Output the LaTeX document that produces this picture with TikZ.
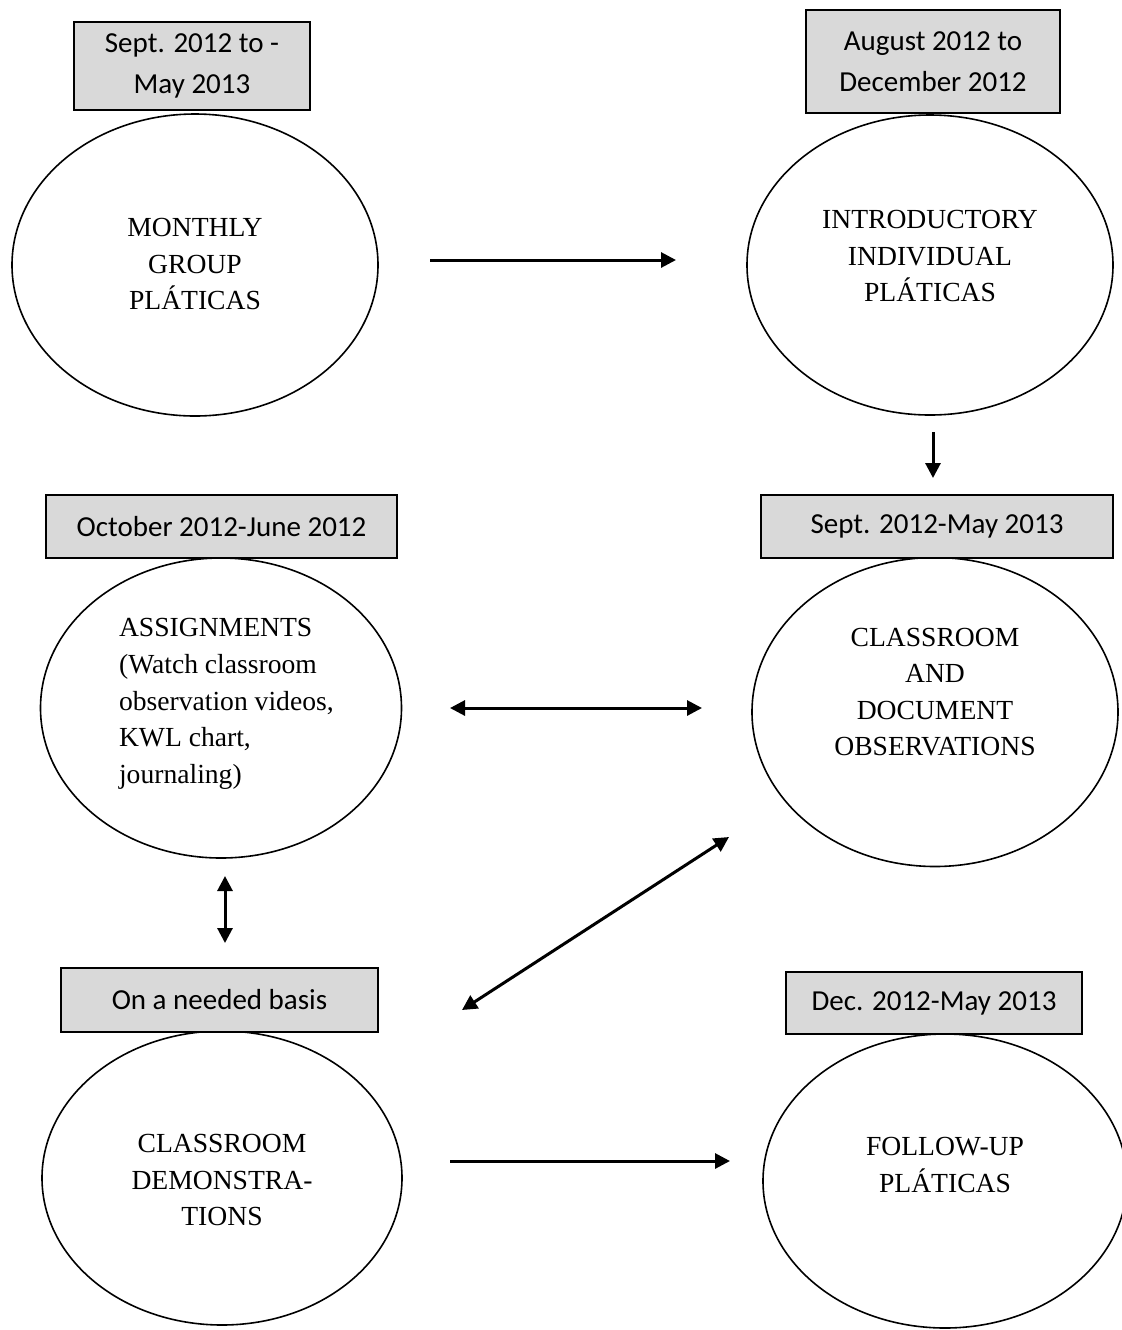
\documentclass[tikz,border=0pt]{standalone}
\usepackage{fontspec}
\setmainfont{Liberation Serif}
\newfontfamily\datefont{Carlito}
\usepackage{xcolor}
\usepackage{tikz}
\usetikzlibrary{shapes.geometric,arrows.meta}
\definecolor{boxgray}{RGB}{217,217,217}

\begin{document}
\begin{tikzpicture}[x=0.5pt, y=-0.5pt,
    stage/.style={draw, ellipse, line width=0.8pt, inner sep=0pt},
    stagetext/.style={font=\fontsize{13.8}{18.3}\selectfont, align=center},
    datebox/.style={draw, fill=boxgray, line width=1pt, inner sep=0pt,
      font=\datefont\fontsize{14.5}{20.5}\selectfont, align=center},
    flow/.style={line width=1.5pt, -{Triangle[length=7.5pt,width=7.5pt]}},
    twoway/.style={line width=1.5pt,
      {Triangle[length=7.5pt,width=7.5pt]}-{Triangle[length=7.5pt,width=7.5pt]}}]
    \useasboundingbox (0,0) rectangle (1122,1330);

    % top row
    \node[stage, minimum width=183pt, minimum height=151pt] (monthly) at (195,265) {};
    \node[stagetext] (monthly-t) at (195,264) {MONTHLY\\GROUP\\PLÁTICAS};
    \node[datebox, minimum width=118pt, minimum height=44pt] (monthly-d) at (192,66)
      {Sept. 2012 to -\\May 2013};

    \node[stage, minimum width=183pt, minimum height=150pt] (intro) at (930,265) {};
    \node[stagetext] (intro-t) at (930,256) {INTRODUCTORY\\INDIVIDUAL\\PLÁTICAS};
    \node[datebox, minimum width=127pt, minimum height=51.5pt] (intro-d) at (933,61.5)
      {August 2012 to\\December 2012};

    % middle row
    \node[stage, minimum width=180.5pt, minimum height=150pt] (assign) at (221,708) {};
    \node[stagetext, align=left, anchor=west] (assign-t) at (112,704)
      {ASSIGNMENTS\\(Watch classroom\\observation videos,\\KWL chart,\\journaling)};
    \node[datebox, minimum width=175.5pt, minimum height=31.5pt] (assign-d) at (221.5,526.5)
      {October 2012-June 2012};

    \node[stage, minimum width=183pt, minimum height=154.5pt] (observ) at (935,712) {};
    \node[stagetext] (observ-t) at (935,692) {CLASSROOM\\AND\\DOCUMENT\\OBSERVATIONS};
    \node[datebox, minimum width=176pt, minimum height=31.5pt] (observ-d) at (937,526.5)
      {Sept. 2012-May 2013};

    % bottom row
    \node[stage, minimum width=180pt, minimum height=147pt] (demo) at (222,1178) {};
    \node[stagetext] (demo-t) at (222,1180) {CLASSROOM\\DEMONSTRA-\\TIONS};
    \node[datebox, minimum width=158.5pt, minimum height=32pt] (demo-d) at (219.5,1000)
      {On a needed basis};

    \node[stage, minimum width=182pt, minimum height=147pt] (follow) at (945,1181) {};
    \node[stagetext] (follow-t) at (945,1165) {FOLLOW-UP\\PLÁTICAS};
    \node[datebox, minimum width=148pt, minimum height=31pt] (follow-d) at (934,1003)
      {Dec. 2012-May 2013};

    % arrows
    \coordinate (a1s) at (430,260);  \coordinate (a1e) at (676,260);
    \coordinate (a2s) at (933,432);  \coordinate (a2e) at (933,478);
    \coordinate (a3s) at (450,708);  \coordinate (a3e) at (702,708);
    \coordinate (a4s) at (462,1010); \coordinate (a4e) at (729,837);
    \coordinate (a5s) at (225,876);  \coordinate (a5e) at (225,943);
    \coordinate (a6s) at (450,1161); \coordinate (a6e) at (730,1161);
    \draw[flow] (a1s) -- (a1e);
    \draw[flow] (a2s) -- (a2e);
    \draw[twoway] (a3s) -- (a3e);
    \draw[twoway] (a4s) -- (a4e);
    \draw[twoway] (a5s) -- (a5e);
    \draw[flow] (a6s) -- (a6e);
  \end{tikzpicture}
\end{document}
